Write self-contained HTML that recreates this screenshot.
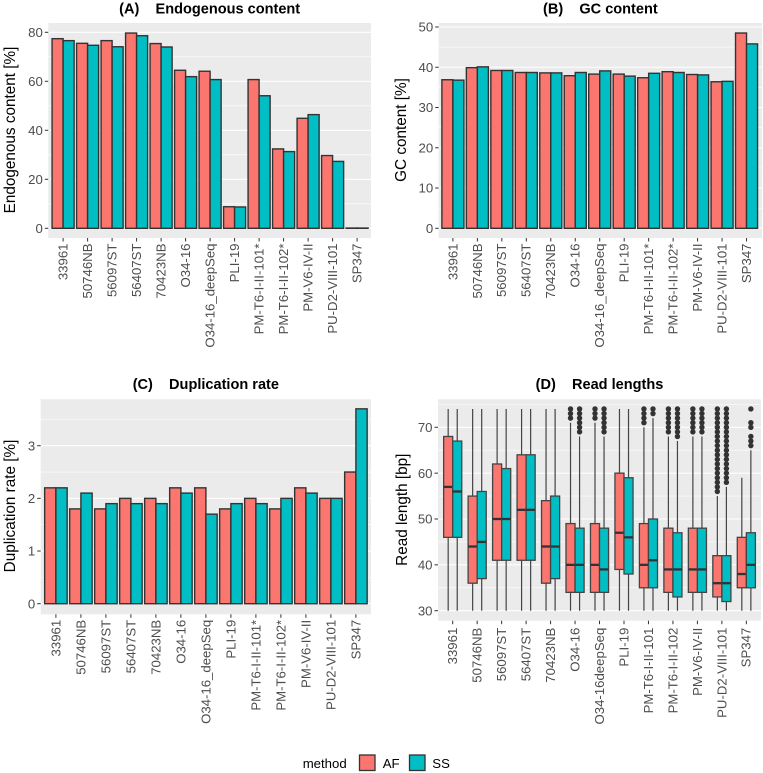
<!DOCTYPE html>
<html>
<head>
<meta charset="utf-8">
<title>Sequencing quality metrics</title>
<style>
html,body{margin:0;padding:0;background:#fff;}
svg{display:block;font-family:"Liberation Sans",sans-serif;}
</style>
</head>
<body>
<svg id="figure" width="763" height="773" viewBox="0 0 763 773" xmlns="http://www.w3.org/2000/svg"></svg>
<script>
const categoriesBars = ["33961","50746NB","56097ST","56407ST","70423NB","O34-16","O34-16_deepSeq","PLI-19","PM-T6-I-II-101*","PM-T6-I-II-102*","PM-V6-IV-II","PU-D2-VIII-101","SP347"];
const categoriesReads = ["33961","50746NB","56097ST","56407ST","70423NB","O34-16","O34-16deepSeq","PLI-19","PM-T6-I-II-101","PM-T6-I-II-102","PM-V6-IV-II","PU-D2-VIII-101","SP347"];
const methods = ["AF","SS"];

const endogenousAF = [77.4,75.5,76.6,79.7,75.4,64.5,64.1,8.8,60.7,32.4,44.9,29.7,0.1];
const endogenousSS = [76.6,74.7,74.1,78.6,74.0,61.9,60.7,8.7,54.1,31.3,46.4,27.3,0.1];
const endogenousTicks = [0,20,40,60,80];
const endogenousMinor = [10,30,50,70];

const gcAF = [36.9,39.9,39.2,38.7,38.6,37.9,38.3,38.3,37.4,38.9,38.2,36.4,48.5];
const gcSS = [36.8,40.1,39.2,38.7,38.6,38.7,39.1,37.8,38.5,38.7,38.1,36.5,45.8];
const gcTicks = [0,10,20,30,40,50];
const gcMinor = [5,15,25,35,45];

const duplicationAF = [2.2,1.8,1.8,2.0,2.0,2.2,2.2,1.8,2.0,1.8,2.2,2.0,2.5];
const duplicationSS = [2.2,2.1,1.9,1.9,1.9,2.1,1.7,1.9,1.9,2.0,2.1,2.0,3.7];
const duplicationTicks = [0,1,2,3];
const duplicationMinor = [0.5,1.5,2.5,3.5];

const readQ1AF = [46,36,41,41,36,34,34,39,35,34,34,33,35];
const readMedianAF = [57,44,50,52,44,40,40,47,40,39,39,36,38];
const readQ3AF = [68,55,62,64,54,49,49,60,49,48,48,42,46];
const readWhiskerLowAF = [30,30,30,30,30,30,30,30,30,30,30,30,30];
const readWhiskerHighAF = [74,74,74,74,74,71,71,74,70,68,68,55,59];
const readOutliersAF = [[],[],[],[],[],[72,73,74],[72,73,74],[],[71,72,73,74],[69,70,71,72,73,74],[69,70,71,72,73,74],[56,57,58,59,60,61,62,63,64,65,66,67,68,69,70,71,72,73,74],[]];

const readQ1SS = [46,37,41,41,37,34,34,38,35,33,34,32,35];
const readMedianSS = [56,45,50,52,44,40,39,46,41,39,39,36,40];
const readQ3SS = [67,56,61,64,55,48,48,59,50,47,48,42,47];
const readWhiskerLowSS = [30,30,30,30,30,30,30,30,30,30,30,30,30];
const readWhiskerHighSS = [74,74,74,74,74,68,68,74,72,67,68,57,65];
const readOutliersSS = [[],[],[],[],[],[69,70,71,72,73,74],[69,70,71,72,73,74],[],[73,74],[68,69,70,71,72,73,74],[69,70,71,72,73,74],[58,59,60,61,62,63,64,65,66,67,68,69,70,71,72,73,74],[66,67,68,70,71,74]];

const readTicks = [30,40,50,60,70];
const readMinor = [35,45,55,65,75];

const NS = "http://www.w3.org/2000/svg";
const root = document.getElementById("figure");
const FILL = {AF:"#FB766F", SS:"#00BEC4"};
const INK = "#333333";
const GREY = "#4D4D4D";

function mk(tag, attrs, parent, text){
  const el = document.createElementNS(NS, tag);
  for (const k in attrs) el.setAttribute(k, attrs[k]);
  if (text !== undefined) el.textContent = text;
  parent.appendChild(el);
  return el;
}
function linear(v0, p0, v1, p1){
  return function(v){ return p0 + (v - v0) * (p1 - p0) / (v1 - v0); };
}

function drawFrame(cfg){
  const g = mk("g", {}, root);
  
  

  const bg = mk("rect", {x:cfg.left, y:cfg.top, width:cfg.right-cfg.left, height:cfg.bottom-cfg.top, fill:"#EBEBEB"}, g);
  
  

  cfg.minor.forEach(function(v){
    const line = mk("line", {x1:cfg.left, x2:cfg.right, y1:cfg.y(v), y2:cfg.y(v), stroke:"#fff", "stroke-width":0.6}, g);
    
    
  });
  cfg.ticks.forEach(function(v){
    const line = mk("line", {x1:cfg.left, x2:cfg.right, y1:cfg.y(v), y2:cfg.y(v), stroke:"#fff", "stroke-width":1.1}, g);
    
    

    const tick = mk("line", {x1:cfg.left-3.5, x2:cfg.left, y1:cfg.y(v), y2:cfg.y(v), stroke:INK, "stroke-width":1}, g);
    
    

    const label = mk("text", {x:cfg.left-5.5, y:cfg.y(v)+4.7, "text-anchor":"end", "font-size":13.2, fill:GREY}, g, String(v));
    
    
  });
  cfg.categories.forEach(function(name, i){
    const cx = cfg.x(i);
    const tick = mk("line", {x1:cx, x2:cx, y1:cfg.bottom, y2:cfg.bottom+3.5, stroke:INK, "stroke-width":1}, g);
    
    

    const ly = cfg.bottom + cfg.labelGap;
    const label = mk("text", {x:cx+4.4, y:ly, transform:"rotate(-90 "+(cx+4.4)+" "+ly+")", "text-anchor":"end", "font-size":13.2, fill:GREY}, g, name);
    
    
  });

  const title = mk("text", {x:(cfg.left+cfg.right)/2, y:cfg.titleY, "text-anchor":"middle", "font-size":14.55, "font-weight":"bold", fill:"#000", style:"white-space:pre"}, g, cfg.title);
  
  

  const yTitle = mk("text", {x:cfg.yTitleX, y:cfg.yTitleY, transform:"rotate(-90 "+cfg.yTitleX+" "+cfg.yTitleY+")", "text-anchor":"middle", "font-size":15.3, fill:"#000"}, g, cfg.yTitle);
  
  
  return g;
}

function drawBars(cfg, af, ss){
  const g = drawFrame(cfg);
  const barW = cfg.step * 0.45;
  [af, ss].forEach(function(series, s){
    series.forEach(function(v, i){
      const bx = cfg.x(i) + (s === 0 ? -barW : 0);
      const top = cfg.y(v);
      const base = cfg.y(0);
      const bar = mk("rect", {x:bx, y:top, width:barW, height:base-top, fill:FILL[methods[s]], stroke:INK, "stroke-width":1.4}, g);
      
      
    });
  });
}

function drawBoxes(cfg, s, q1, med, q3, low, high, outliers){
  const g = cfg.group;
  const boxW = cfg.step * 0.37;
  const off = (s === 0 ? -1 : 1) * boxW / 2;
  q1.forEach(function(_, i){
    const cx = cfg.x(i) + off;
    const whisker = mk("line", {x1:cx, x2:cx, y1:cfg.y(low[i]), y2:cfg.y(high[i]), stroke:"#444", "stroke-width":1.2}, g);
    
    

    outliers[i].forEach(function(v){
      const dot = mk("circle", {cx:cx, cy:cfg.y(v), r:2.7, fill:INK}, g);
      
      
    });

    const box = mk("rect", {x:cx-boxW/2, y:cfg.y(q3[i]), width:boxW, height:cfg.y(q1[i])-cfg.y(q3[i]), fill:FILL[methods[s]], stroke:"#444", "stroke-width":1.3}, g);
    
    

    const median = mk("line", {x1:cx-boxW/2, x2:cx+boxW/2, y1:cfg.y(med[i]), y2:cfg.y(med[i]), stroke:INK, "stroke-width":2.3}, g);
    
    
  });
}

const panelA = {id:"endogenous", title:"(A)    Endogenous content", yTitle:"Endogenous content [%]",
  left:48.3, right:371, top:23, bottom:238, step:24.5, labelGap:5.5, titleY:13.5,
  yTitleX:15, yTitleY:130, categories:categoriesBars, ticks:endogenousTicks, minor:endogenousMinor,
  x:function(i){ return 63.1 + i*24.5; }, y:linear(0,228.3,80,32.3)};
drawBars(panelA, endogenousAF, endogenousSS);

const panelB = {id:"gc", title:"(B)    GC content", yTitle:"GC content [%]",
  left:438.7, right:762, top:23, bottom:238, step:24.47, labelGap:5.5, titleY:13.5,
  yTitleX:406, yTitleY:130, categories:categoriesBars, ticks:gcTicks, minor:gcMinor,
  x:function(i){ return 452.9 + i*24.47; }, y:linear(0,228.3,50,27)};
drawBars(panelB, gcAF, gcSS);

const panelC = {id:"duplication", title:"(C)    Duplication rate", yTitle:"Duplication rate [%]",
  left:40.7, right:371, top:399.3, bottom:614.3, step:25, labelGap:5.5, titleY:389,
  yTitleX:15, yTitleY:506, categories:categoriesBars, ticks:duplicationTicks, minor:duplicationMinor,
  x:function(i){ return 55.9 + i*25; }, y:linear(0,603.7,3,445.7)};
drawBars(panelC, duplicationAF, duplicationSS);

const panelD = {id:"read-lengths", title:"(D)    Read lengths", yTitle:"Read length [bp]",
  left:438, right:761, top:399.3, bottom:620.7, step:24.47, labelGap:7, titleY:389,
  yTitleX:407, yTitleY:509.7, categories:categoriesReads, ticks:readTicks, minor:readMinor,
  x:function(i){ return 452.7 + i*24.47; }, y:linear(30,610.7,70,427.3)};
panelD.group = drawFrame(panelD);
drawBoxes(panelD, 0, readQ1AF, readMedianAF, readQ3AF, readWhiskerLowAF, readWhiskerHighAF, readOutliersAF);
drawBoxes(panelD, 1, readQ1SS, readMedianSS, readQ3SS, readWhiskerLowSS, readWhiskerHighSS, readOutliersSS);

const legend = mk("g", {}, root);



const legendTitle = mk("text", {x:302.7, y:768, "font-size":13.2, fill:"#000"}, legend, "method");



const keyAF = mk("rect", {x:359.5, y:755, width:15.5, height:15.5, fill:FILL.AF, stroke:INK, "stroke-width":1.3}, legend);



const labelAF = mk("text", {x:382.7, y:768, "font-size":13.2, fill:"#000"}, legend, methods[0]);



const keySS = mk("rect", {x:409.5, y:755, width:15.5, height:15.5, fill:FILL.SS, stroke:INK, "stroke-width":1.3}, legend);



const labelSS = mk("text", {x:432.3, y:768, "font-size":13.2, fill:"#000"}, legend, methods[1]);


</script>
</body>
</html>
